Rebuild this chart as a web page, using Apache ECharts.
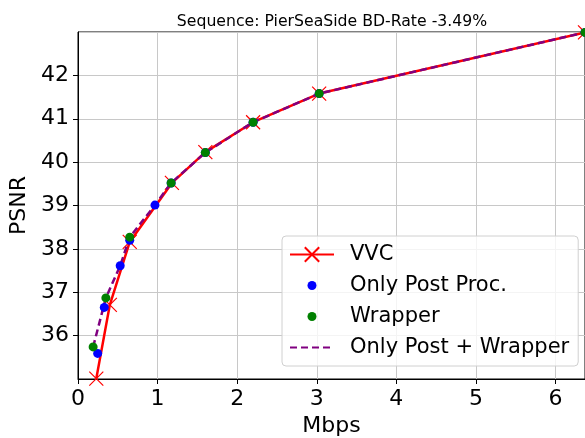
<!DOCTYPE html>
<html>
<head>
<meta charset="utf-8">
<script src="https://cdn.jsdelivr.net/npm/echarts@6/dist/echarts.min.js"></script>
<style>
  html, body { margin: 0; padding: 0; background: #fff; }
  #chart { width: 585px; height: 438px; }
</style>
</head>
<body>
<div id="chart"></div>
<script>
// Rate-distortion curves: bitrate (Mbps) vs PSNR (dB)
const vvcRate  = [0.23, 0.40, 0.65, 1.18, 1.60, 2.20, 3.03, 6.37];
const vvcPsnr  = [35.01, 36.71, 38.16, 39.52, 40.23, 40.92, 41.58, 42.99];

const postRate = [0.247, 0.33, 0.53, 0.65, 0.967, 1.17, 1.60, 2.20, 3.03, 6.37];
const postPsnr = [35.59, 36.65, 37.61, 38.20, 39.01, 39.52, 40.22, 40.92, 41.58, 42.99];

const wrapRate = [0.19, 0.35, 0.65, 1.17, 1.60, 2.20, 3.03, 6.37];
const wrapPsnr = [35.74, 36.87, 38.27, 39.52, 40.22, 40.92, 41.58, 42.99];

const bothRate = [0.19, 0.35, 0.53, 0.65, 0.967, 1.17, 1.60, 2.20, 3.03, 6.37];
const bothPsnr = [35.74, 36.87, 37.61, 38.27, 39.01, 39.52, 40.22, 40.92, 41.58, 42.99];

const seriesNames = ['VVC', 'Only Post Proc.', 'Wrapper', 'Only Post + Wrapper'];
const titleText = 'Sequence: PierSeaSide BD-Rate -3.49%';

const pairs = (xs, ys) => xs.map((x, i) => [x, ys[i]]);

const FONT = 'DejaVu Sans';
const crossPath = 'path://M0,0L10,10M10,0L0,10';

// small round legend marker for the scatter series
function dotIcon(color) {
  const svg = '<svg xmlns="http://www.w3.org/2000/svg" width="44" height="18">' +
    '<circle cx="22" cy="9" r="4.5" fill="' + color + '"/></svg>';
  return 'image://data:image/svg+xml;charset=utf-8,' + encodeURIComponent(svg);
}

const chart = echarts.init(document.getElementById('chart'), null, { renderer: 'canvas' });

const axisLineStyle = { color: '#000', width: 1 };
const gridLineStyle = { color: '#c8c8c8', width: 1 };

chart.setOption({
  animation: false,
  backgroundColor: '#fff',
  title: {
    text: titleText,
    left: 327,
    textAlign: 'center',
    top: 9,
    textStyle: { fontFamily: FONT, fontSize: 15.7, fontWeight: 'normal', color: '#000' }
  },
  grid: {
    left: 78, right: 0, top: 32, bottom: 59,
    containLabel: false,
    outerBoundsMode: 'none',
    show: true, borderColor: '#000', borderWidth: 1
  },
  xAxis: {
    type: 'value',
    min: 0,
    max: 6.37,
    interval: 1,
    name: 'Mbps',
    nameLocation: 'middle',
    nameGap: 36,
    nameTextStyle: { fontFamily: FONT, fontSize: 22, color: '#000' },
    axisLine: { show: true, onZero: false, lineStyle: axisLineStyle },
    axisTick: { show: true, length: 5, lineStyle: axisLineStyle },
    axisLabel: { fontFamily: FONT, fontSize: 22, color: '#000', margin: 9, showMaxLabel: false },
    splitLine: { show: true, lineStyle: gridLineStyle }
  },
  yAxis: {
    type: 'value',
    min: 35,
    max: 43,
    interval: 1,
    name: 'PSNR',
    nameLocation: 'middle',
    nameGap: 44,
    nameRotate: 90,
    nameTextStyle: { fontFamily: FONT, fontSize: 22, color: '#000' },
    axisLine: { show: true, onZero: false, lineStyle: axisLineStyle },
    axisTick: { show: true, length: 5, lineStyle: axisLineStyle },
    axisLabel: {
      fontFamily: FONT, fontSize: 22, color: '#000', margin: 9,
      showMinLabel: false, showMaxLabel: false
    },
    splitLine: { show: true, lineStyle: gridLineStyle }
  },
  legend: {
    orient: 'vertical',
    left: 282,
    top: 236,
    padding: [8, 9, 8, 7],
    itemGap: 10,
    itemWidth: 44,
    itemHeight: 18,
    backgroundColor: 'rgba(255,255,255,0.8)',
    borderColor: '#d0d0d0',
    borderWidth: 1,
    borderRadius: 4,
    textStyle: { fontFamily: FONT, fontSize: 21, color: '#000', padding: [0, 0, 0, 11] },
    data: [
      { name: seriesNames[0] },
      { name: seriesNames[1], icon: dotIcon('#0000ff') },
      { name: seriesNames[2], icon: dotIcon('#008000') },
      { name: seriesNames[3], itemStyle: { color: 'rgba(0,0,0,0)', borderWidth: 0, opacity: 0 } }
    ]
  },
  series: [
    {
      name: seriesNames[0],
      type: 'line',
      data: pairs(vvcRate, vvcPsnr),
      symbol: crossPath,
      symbolSize: 14,
      showAllSymbol: true,
      color: '#ff0000',
      lineStyle: { color: '#ff0000', width: 2.5 },
      itemStyle: { color: 'rgba(0,0,0,0)', borderColor: '#ff0000', borderWidth: 1.2 },
      z: 2
    },
    {
      name: seriesNames[3],
      type: 'line',
      data: pairs(bothRate, bothPsnr),
      symbol: 'none',
      color: '#800080',
      lineStyle: { color: '#800080', width: 2.5, type: [7, 4] },
      z: 3
    },
    {
      name: seriesNames[1],
      type: 'scatter',
      data: pairs(postRate, postPsnr),
      symbol: 'circle',
      symbolSize: 9,
      color: '#0000ff',
      itemStyle: { color: '#0000ff', opacity: 1 },
      z: 4
    },
    {
      name: seriesNames[2],
      type: 'scatter',
      data: pairs(wrapRate, wrapPsnr),
      symbol: 'circle',
      symbolSize: 9,
      color: '#008000',
      itemStyle: { color: '#008000', opacity: 1 },
      z: 5
    }
  ]
});
</script>
</body>
</html>
